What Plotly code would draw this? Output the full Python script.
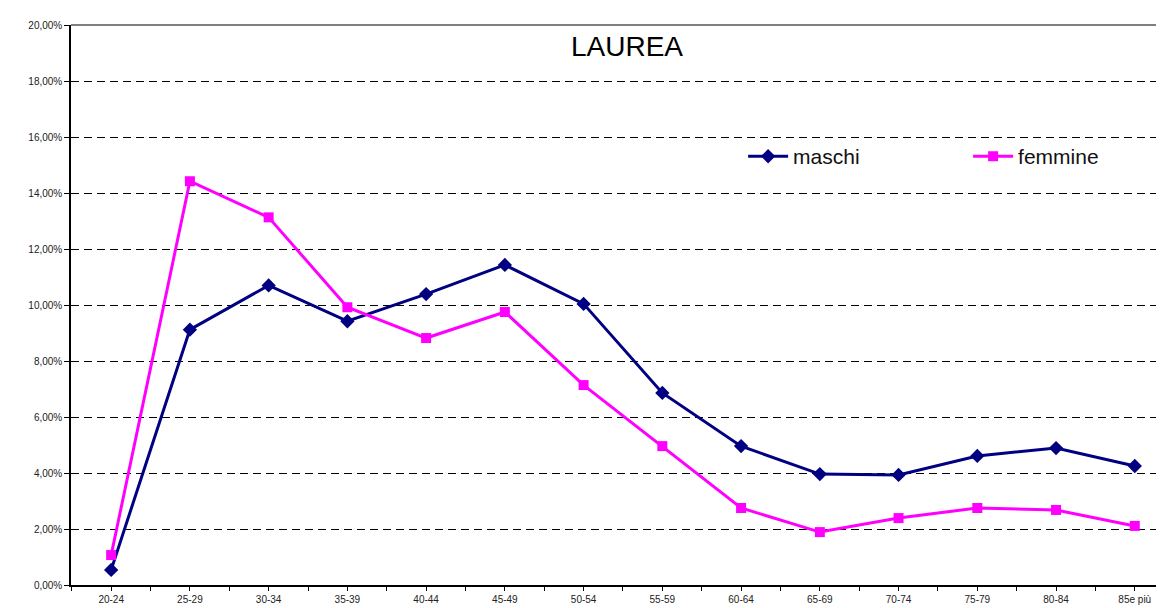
import plotly.graph_objects as go

categories = ["20-24", "25-29", "30-34", "35-39", "40-44", "45-49", "50-54",
              "55-59", "60-64", "65-69", "70-74", "75-79", "80-84", "85e più"]
maschi = [0.54, 9.12, 10.70, 9.42, 10.39, 11.43, 10.04, 6.86, 4.96, 3.96, 3.93, 4.61, 4.89, 4.25]
femmine = [1.07, 14.42, 13.13, 9.92, 8.82, 9.75, 7.14, 4.96, 2.75, 1.89, 2.39, 2.75, 2.68, 2.11]
y_ticks = [0, 2, 4, 6, 8, 10, 12, 14, 16, 18, 20]
title_text = "LAUREA"

xpos = list(range(len(categories)))

fig = go.Figure()
fig.add_trace(go.Scatter(
    x=xpos, y=maschi, name="maschi", mode="lines+markers",
    line=dict(color="#000080", width=3),
    marker=dict(symbol="diamond", size=11, color="#000080"),
))
fig.add_trace(go.Scatter(
    x=xpos, y=femmine, name="femmine", mode="lines+markers",
    line=dict(color="#FF00FF", width=3),
    marker=dict(symbol="square", size=10, color="#FF00FF"),
))

fig.update_layout(
    width=1164, height=608,
    margin=dict(l=63, r=1, t=17, b=31, autoexpand=False),
    paper_bgcolor="white", plot_bgcolor="white",
    separators=",.",
    font=dict(family="Liberation Sans, Arial, sans-serif", color="#222"),
    showlegend=True,
    legend=dict(
        orientation="h", x=0.611, y=0.765, xanchor="left", yanchor="middle",
        font=dict(size=21, color="#111"),
        bgcolor="rgba(0,0,0,0)", entrywidth=170, entrywidthmode="pixels",
        itemwidth=40,
    ),
    annotations=[dict(
        text=title_text, x=0.505, y=0.962, xref="paper", yref="paper",
        xanchor="center", yanchor="middle", showarrow=False,
        font=dict(size=28, color="#000", family="Liberation Sans, Arial, sans-serif"),
    )],
    shapes=[
        dict(type="line", xref="paper", yref="paper", x0=0, x1=1, y0=1, y1=1,
             line=dict(color="#555", width=1.5)),
        dict(type="line", xref="paper", yref="paper", x0=1, x1=1, y0=0, y1=1,
             line=dict(color="#aaa", width=1)),
    ],
)

fig.update_xaxes(
    range=[-0.51, 13.46],
    tickmode="array", tickvals=xpos, ticktext=categories,
    ticks="outside", ticklen=4, tickwidth=1.2, tickcolor="#000",
    showline=True, linecolor="#000", linewidth=1.5,
    showgrid=False, zeroline=False,
    tickfont=dict(size=10, color="#222"),
    minor=dict(tickmode="linear", tick0=-0.5, dtick=1, ticks="outside",
               ticklen=4, tickwidth=1.2, tickcolor="#000", showgrid=False),
)
fig.update_yaxes(
    range=[0, 20],
    tickmode="array", tickvals=y_ticks,
    ticktext=[f"{v:.2f}".replace(".", ",") + "%" for v in y_ticks],
    ticks="outside", ticklen=5, tickwidth=1.2, tickcolor="#000",
    showline=True, linecolor="#000", linewidth=1.5,
    showgrid=True, gridcolor="#000", gridwidth=1, griddash="8px,5px",
    zeroline=False,
    tickfont=dict(size=10, color="#222"),
)

fig.write_html("out.html")
